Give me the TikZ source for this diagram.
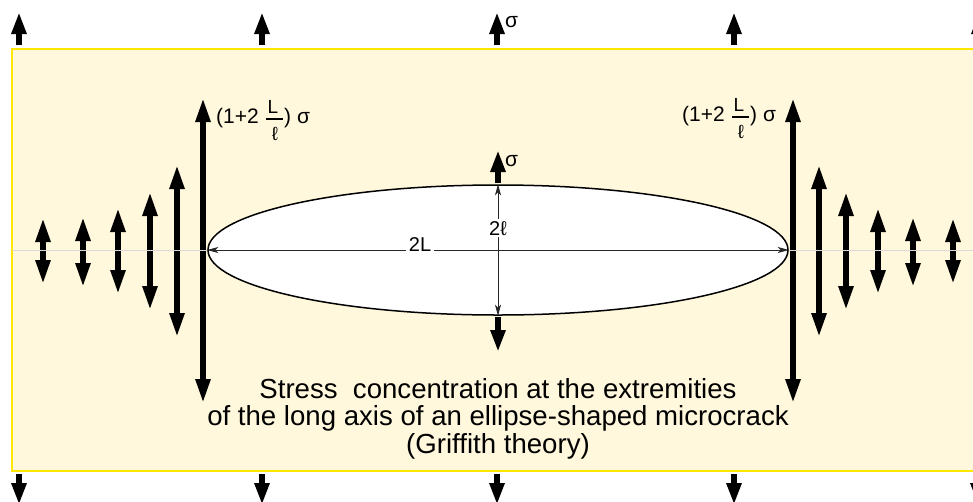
\documentclass[tikz,border=0pt]{standalone}
\usepackage{fontspec}
\setmainfont{Liberation Sans}
\usetikzlibrary{arrows.meta,shapes.geometric}
\definecolor{plate}{RGB}{255,248,220}
\definecolor{rim}{RGB}{255,232,0}
\tikzset{
  load/.style={line width=6pt, -{Triangle[width=14pt,length=22pt]}},
  dload/.style={line width=5.5pt, {Triangle[width=14pt,length=24pt]}-{Triangle[width=14pt,length=24pt]}},
  dimline/.style={line width=0.9pt, draw=black!85, {Stealth[width=6pt,length=11pt,inset=3pt]}-{Stealth[width=6pt,length=11pt,inset=3pt]}},
  lbl/.style={font=\fontsize{21}{21}\selectfont, inner sep=0pt},
  lblsmall/.style={font=\fontsize{19}{19}\selectfont, inner sep=0pt},
  dimlbl/.style={font=\fontsize{20}{20}\selectfont, fill=white, inner xsep=3pt, inner ysep=1.5pt},
  captxt/.style={font=\fontsize{27.6}{28}\selectfont, inner sep=0pt, anchor=base},
  axisline/.style={white!70!gray, line width=0.8pt},
  stresslabel/.pic={
    \node[lbl, anchor=base west] (-a) at (0,0) {(1+2};
    \node[lblsmall, anchor=base] (-n) at (57,-10) {L};
    \node[lblsmall, anchor=north] (-d) at (59,4) {ℓ};
    \draw[line width=1.4pt] (50,-4) -- (67,-4);
    \node[lbl, anchor=base west] (-b) at (68,0) {) σ};
  }
}
\begin{document}
\begin{tikzpicture}[x=1pt,y=-1pt]
\useasboundingbox (0,0) rectangle (973,501);
% plate
\draw[rim, line width=2pt, fill=plate] (12.3,49.3) rectangle (995,471.2);
% applied stress, top and bottom
\foreach \x in {19,262,497,734,979} \draw[load] (\x,45) -- (\x,12);
\foreach \x in {19,262,497,734,978} \draw[load] (\x,474) -- (\x,505);
\node[lbl, anchor=west] (sigtop) at (505,22) {σ};
% crack
\node[draw, ellipse, fill=white, line width=1.5pt, minimum width=580pt, minimum height=130pt, inner sep=0pt] (crack) at (498,250) {};
\draw[dimline] (crack.west) -- (crack.east);
\draw[dimline] (crack.north) -- (crack.south);
\node[dimlbl, anchor=base] (twoL) at (420,251) {2L};
\node[dimlbl, anchor=base, inner ysep=2pt] (twol) at (498,235) {2ℓ};
% local stress at crack faces
\draw[load] (498,183) -- (498,150);
\node[lbl, anchor=west] (sigmid) at (505,161) {σ};
\draw[load] (498,317) -- (498,352);
% concentrated stresses near the tips
\draw[dload] (203,98) -- (203,403);
\draw[dload] (793,98) -- (793,403);
\foreach \d/\a/\b in {455/218/284, 415/217/287, 380/208/294, 348/192/310, 321/165/337} {
  \draw[dload] (498-\d,\a) -- (498-\d,\b);
  \draw[dload] (498+\d,\a) -- (498+\d,\b);
}
\draw[axisline] (12,250) -- (crack.west);
\draw[axisline] (crack.east) -- (973,250);
\pic (lablft) at (216,123) {stresslabel};
\pic (labrgt) at (682,121) {stresslabel};
% caption
\node[captxt] (cap1) at (498,398) {Stress~ concentration at the extremities};
\node[captxt] (cap2) at (498,425.5) {of the long axis of an ellipse-shaped microcrack};
\node[captxt] (cap3) at (498,453) {(Griffith theory)};
\end{tikzpicture}
\end{document}
